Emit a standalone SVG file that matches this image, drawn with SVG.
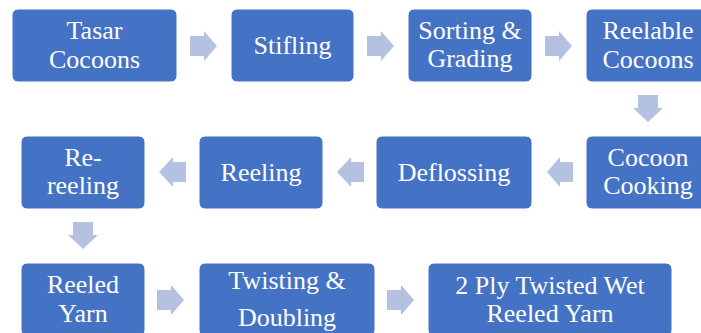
<svg xmlns="http://www.w3.org/2000/svg" width="701" height="333" viewBox="0 0 701 333">
<style>
.box{fill:#4472C4;stroke:#ffffff;stroke-width:1}
.arr{fill:#B4C1E1}
.t{font-family:'Liberation Serif','DejaVu Serif',serif;font-size:26px;fill:#ffffff;text-anchor:middle}
</style>
<rect width="701" height="333" fill="#ffffff"/>
<g id="connectors">
<polygon class="arr" points="190,36 204,36 204,31 217,46 204,61 204,56 190,56"/>
<polygon class="arr" points="367,36 381,36 381,31 394,46 381,61 381,56 367,56"/>
<polygon class="arr" points="545,36 559,36 559,31 572,46 559,61 559,56 545,56"/>
<polygon class="arr" points="638,95 658,95 658,108 663,108 648,122 633,108 638,108"/>
<polygon class="arr" points="573,162 560,162 560,157 547,172 560,187 560,182 573,182"/>
<polygon class="arr" points="364,162 351,162 351,157 337,172 351,187 351,182 364,182"/>
<polygon class="arr" points="186,162 173,162 173,157 159,172 173,187 173,182 186,182"/>
<polygon class="arr" points="73,222 93,222 93,235 98,235 83,249 68,235 73,235"/>
<polygon class="arr" points="157,290 171,290 171,285 184,300 171,315 171,310 157,310"/>
<polygon class="arr" points="387,290 401,290 401,285 414,300 401,315 401,310 387,310"/>
</g>
<g id="n1"><rect class="box" x="12" y="9" width="165" height="73" rx="6"/><text class="t" x="94.5" y="39">Tasar</text><text class="t" x="94.5" y="68">Cocoons</text></g>
<g id="n2"><rect class="box" x="231" y="9" width="123" height="73" rx="6"/><text class="t" x="292.5" y="54">Stifling</text></g>
<g id="n3"><rect class="box" x="408" y="9" width="124" height="73" rx="6"/><text class="t" x="470" y="39">Sorting &amp;</text><text class="t" x="470" y="67">Grading</text></g>
<g id="n4"><rect class="box" x="586" y="9" width="124" height="73" rx="6"/><text class="t" x="648" y="39">Reelable</text><text class="t" x="648" y="68">Cocoons</text></g>
<g id="n5"><rect class="box" x="586" y="136" width="124" height="73" rx="6"/><text class="t" x="648" y="166">Cocoon</text><text class="t" x="648" y="194">Cooking</text></g>
<g id="n6"><rect class="box" x="376" y="136" width="156" height="73" rx="6"/><text class="t" x="454" y="181">Deflossing</text></g>
<g id="n7"><rect class="box" x="199" y="136" width="124" height="73" rx="6"/><text class="t" x="261" y="181">Reeling</text></g>
<g id="n8"><rect class="box" x="21" y="136" width="124" height="73" rx="6"/><text class="t" x="83" y="166">Re-</text><text class="t" x="83" y="194">reeling</text></g>
<g id="n9"><rect class="box" x="21" y="263" width="124" height="73" rx="6"/><text class="t" x="83" y="293">Reeled</text><text class="t" x="83" y="322">Yarn</text></g>
<g id="n10"><rect class="box" x="199" y="263" width="176" height="73" rx="6"/><text class="t" x="287" y="289">Twisting &amp;</text><text class="t" x="287" y="326">Doubling</text></g>
<g id="n11"><rect class="box" x="428" y="263" width="244" height="73" rx="6"/><text class="t" x="550" y="294">2 Ply Twisted Wet</text><text class="t" x="550" y="322">Reeled Yarn</text></g>
</svg>
